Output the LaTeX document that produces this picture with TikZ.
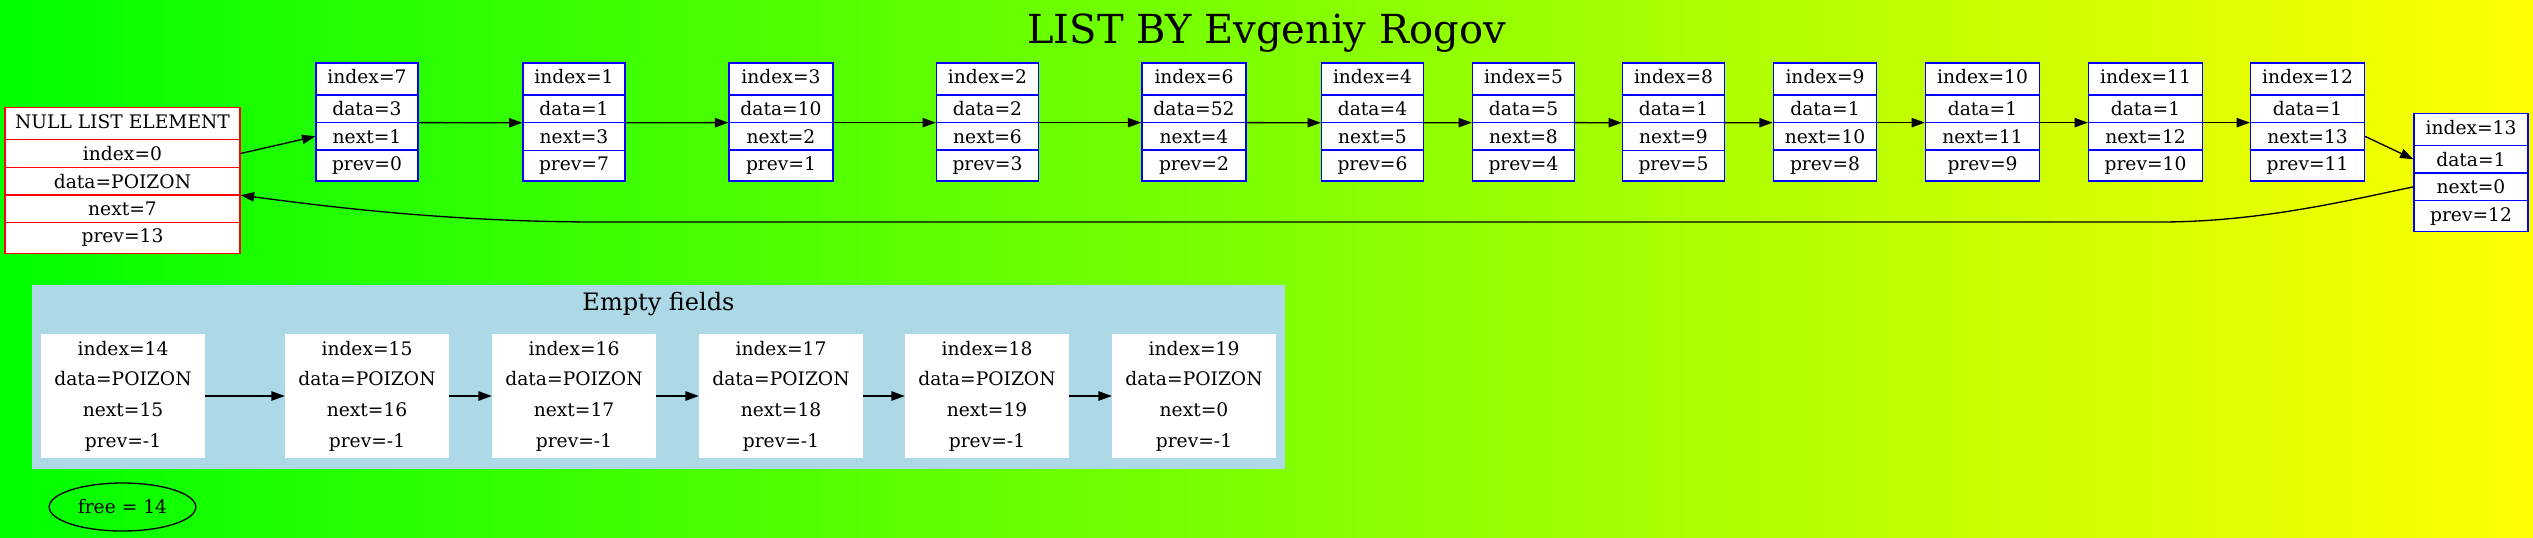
\documentclass[tikz,border=0pt]{standalone}
\usepackage{fontspec}
\setmainfont{DejaVu Serif}
\usetikzlibrary{shapes.multipart,shapes.geometric,arrows.meta}
\definecolor{clusterblue}{HTML}{ADD8E6}
\tikzset{
  rec/.style={rectangle split, rectangle split parts=4, draw=blue, fill=white,
    line width=1pt, inner xsep=8.6pt, inner ysep=4.5pt,
    text height=10.5pt, text depth=3.5pt,
    font=\fontsize{14pt}{16.8pt}\selectfont},
  nullrec/.style={rec, rectangle split parts=5, draw=red, inner xsep=7.6pt},
  emptyrec/.style={fill=white, align=center, inner xsep=10pt, inner ysep=5pt,
    font=\fontsize{14pt}{23pt}\selectfont},
  link/.style={line width=1pt, -{Triangle[length=10pt,width=7pt]}}
}
\begin{document}
\begin{tikzpicture}[x=0.75pt,y=-0.75pt]
  \shade[left color=green, right color=yellow] (0,0) rectangle (2533,537);
  \node[anchor=base, font=\fontsize{30pt}{36pt}\selectfont] (title) at (1266.5,43) {LIST BY Evgeniy Rogov};

  % list in use
  \node[nullrec] (null) at (122.5,180.5) {NULL LIST ELEMENT \nodepart{two} index=0 \nodepart{three} data=POIZON \nodepart{four} next=7 \nodepart{five} prev=13};
  \node[rec] (n7) at (367,122) {index=7 \nodepart{two} data=3 \nodepart{three} next=1 \nodepart{four} prev=0};
  \node[rec] (n1) at (574,122) {index=1 \nodepart{two} data=1 \nodepart{three} next=3 \nodepart{four} prev=7};
  \node[rec] (n3) at (781,122) {index=3 \nodepart{two} data=10 \nodepart{three} next=2 \nodepart{four} prev=1};
  \node[rec] (n2) at (987.5,122) {index=2 \nodepart{two} data=2 \nodepart{three} next=6 \nodepart{four} prev=3};
  \node[rec] (n6) at (1194,122) {index=6 \nodepart{two} data=52 \nodepart{three} next=4 \nodepart{four} prev=2};
  \node[rec] (n4) at (1372.5,122) {index=4 \nodepart{two} data=4 \nodepart{three} next=5 \nodepart{four} prev=6};
  \node[rec] (n5) at (1523.5,122) {index=5 \nodepart{two} data=5 \nodepart{three} next=8 \nodepart{four} prev=4};
  \node[rec] (n8) at (1673.5,122) {index=8 \nodepart{two} data=1 \nodepart{three} next=9 \nodepart{four} prev=5};
  \node[rec] (n9) at (1825,122) {index=9 \nodepart{two} data=1 \nodepart{three} next=10 \nodepart{four} prev=8};
  \node[rec] (n10) at (1982.5,122) {index=10 \nodepart{two} data=1 \nodepart{three} next=11 \nodepart{four} prev=9};
  \node[rec] (n11) at (2145.5,122) {index=11 \nodepart{two} data=1 \nodepart{three} next=12 \nodepart{four} prev=10};
  \node[rec] (n12) at (2307.5,122) {index=12 \nodepart{two} data=1 \nodepart{three} next=13 \nodepart{four} prev=11};
  \node[rec] (n13) at (2471,172.5) {index=13 \nodepart{two} data=1 \nodepart{three} next=0 \nodepart{four} prev=12};

  \path[link]
  (null.two east) edge (n7.three west)
  (n7.two split east) edge (n1.two split west)
  (n1.two split east) edge (n3.two split west)
  (n3.two split east) edge (n2.two split west)
  (n2.two split east) edge (n6.two split west)
  (n6.two split east) edge (n4.two split west)
  (n4.two split east) edge (n5.two split west)
  (n5.two split east) edge (n8.two split west)
  (n8.two split east) edge (n9.two split west)
  (n9.two split east) edge (n10.two split west)
  (n10.two split east) edge (n11.two split west)
  (n11.two split east) edge (n12.two split west)
  (n12.three east) edge (n13.two west);

  % back to the null element
  \coordinate (bendR) at (2160,222);
  \coordinate (bendL) at (600,222);
  \draw[link] (n13.three west) .. controls (2350,200) and (2260,222) .. (bendR)
    -- (bendL) .. controls (450,222) and (330,207) .. (null.three split east);

  % empty fields
  \fill[clusterblue] (32,285) rectangle (1285,469);
  \node[anchor=base, font=\fontsize{18pt}{21.6pt}\selectfont] (emptylabel) at (658.5,310) {Empty fields};
  \node[emptyrec] (n14) at (123,396) {index=14\\data=POIZON\\next=15\\prev=-1};
  \node[emptyrec] (n15) at (367,396) {index=15\\data=POIZON\\next=16\\prev=-1};
  \node[emptyrec] (n16) at (574,396) {index=16\\data=POIZON\\next=17\\prev=-1};
  \node[emptyrec] (n17) at (781,396) {index=17\\data=POIZON\\next=18\\prev=-1};
  \node[emptyrec] (n18) at (987,396) {index=18\\data=POIZON\\next=19\\prev=-1};
  \node[emptyrec] (n19) at (1194,396) {index=19\\data=POIZON\\next=0\\prev=-1};

  \path[link]
  (n14) edge (n15)
  (n15) edge (n16)
  (n16) edge (n17)
  (n17) edge (n18)
  (n18) edge (n19);

  \node[draw, ellipse, line width=1pt, minimum width=110pt, minimum height=36pt,
    font=\fontsize{14pt}{16.8pt}\selectfont] (freenode) at (122.5,507) {free = 14};
\end{tikzpicture}
\end{document}
